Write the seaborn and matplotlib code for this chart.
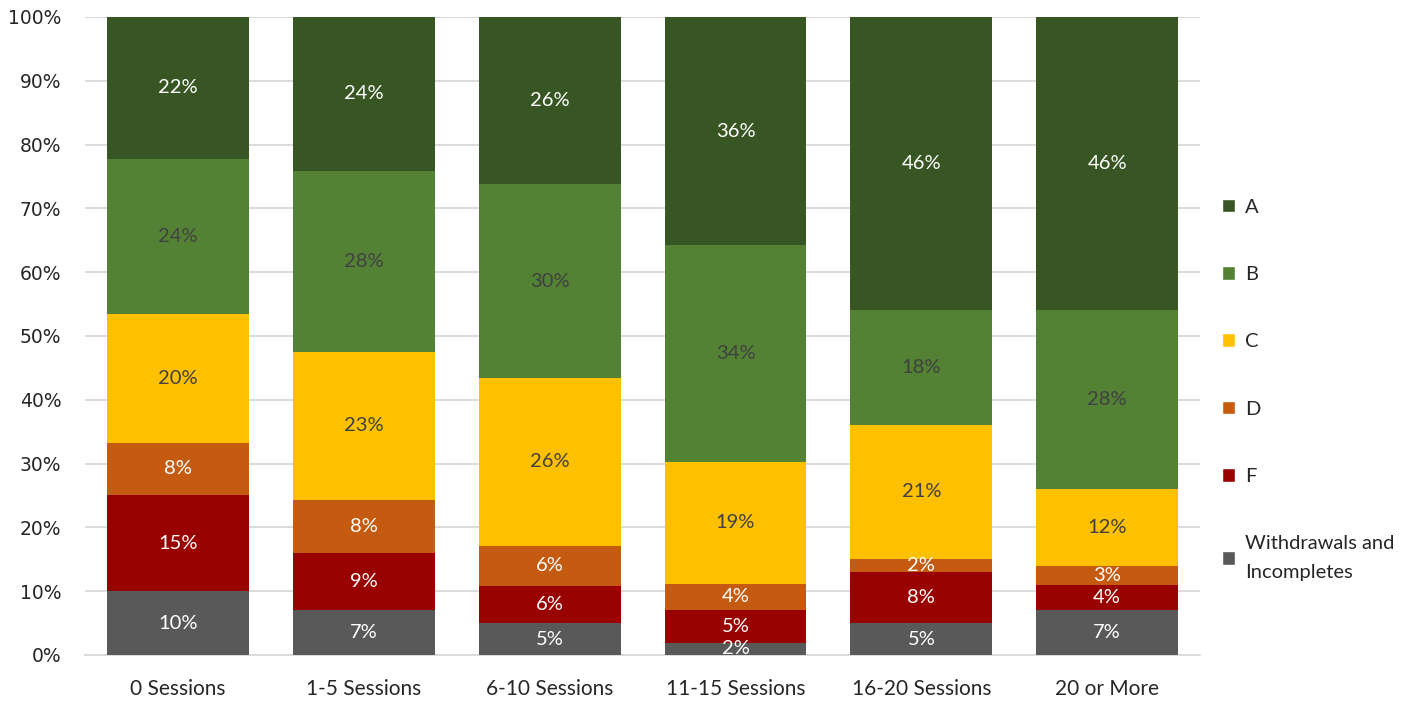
import matplotlib
matplotlib.use("Agg")
import matplotlib.pyplot as plt
from matplotlib.patches import Patch
from matplotlib.ticker import PercentFormatter
import seaborn as sns
import numpy as np

categories = ["0 Sessions", "1-5 Sessions", "6-10 Sessions", "11-15 Sessions", "16-20 Sessions", "20 or More"]

# shares in percent, bottom to top of each bar
withdrawals = [10.0, 7.0, 5.0, 1.9, 5.0, 7.0]
grade_f = [15.0, 9.0, 5.8, 5.2, 8.0, 4.0]
grade_d = [8.3, 8.3, 6.3, 4.1, 2.0, 2.9]
grade_c = [20.2, 23.2, 26.3, 19.0, 21.1, 12.1]
grade_b = [24.3, 28.4, 30.4, 34.0, 18.0, 28.1]
grade_a = [22.2, 24.1, 26.2, 35.8, 45.9, 45.9]

series_names = ["Withdrawals and\nIncompletes", "F", "D", "C", "B", "A"]
series_vals = [withdrawals, grade_f, grade_d, grade_c, grade_b, grade_a]
colors = ["#595959", "#990000", "#C55A11", "#FFC000", "#548235", "#375623"]
text_colors = ["white", "white", "white", "#404040", "#404040", "white"]

sns.set_theme(style="white")
plt.rcParams["font.family"] = ["Lato", "DejaVu Sans"]

fig = plt.figure(figsize=(14.26, 7.02), dpi=100)
ax = fig.add_axes([0.0596, 0.067, 0.782, 0.9088])

bottom = np.zeros(len(categories))
for name, vals, col, tcol in zip(series_names, series_vals, colors, text_colors):
    vals = np.array(vals)
    sns.barplot(x=categories, y=vals, bottom=bottom, color=col, width=0.763,
                saturation=1, ax=ax, zorder=3, linewidth=0)
    for i, v in enumerate(vals):
        ax.text(i, bottom[i] + v / 2, f"{v:.0f}%", ha="center", va="center",
                color=tcol, fontsize=14.5, zorder=4, clip_on=True)
    bottom += vals

ax.set_ylim(0, 100)
ax.set_xlim(-0.5, len(categories) - 0.5)
ax.set_yticks(np.arange(0, 101, 10))
ax.yaxis.set_major_formatter(PercentFormatter(decimals=0))
ax.yaxis.grid(True, color="#D9D9D9", linewidth=1.3, zorder=0)
ax.tick_params(axis="y", length=0, pad=17, labelsize=13.5)
ax.tick_params(axis="x", length=0, pad=17, labelsize=15)
for lbl in ax.get_yticklabels():
    lbl.set_family("DejaVu Sans")
for s in ["top", "right", "left"]:
    ax.spines[s].set_visible(False)
ax.spines["bottom"].set_color("#D9D9D9")
ax.spines["bottom"].set_linewidth(1.3)
ax.set_xlabel("")
ax.set_ylabel("")

handles = [Patch(facecolor=c, label=n) for n, c in zip(series_names, colors)][::-1]
leg = fig.legend(handles=handles, loc="upper left", bbox_to_anchor=(0.844, 0.743),
                 frameon=False, fontsize=14.5, handlelength=0.65, handleheight=0.65,
                 handletextpad=0.5, labelspacing=2.5)
leg.get_texts()[-1].set_linespacing(1.85)

fig.savefig("out.png", dpi=100)
